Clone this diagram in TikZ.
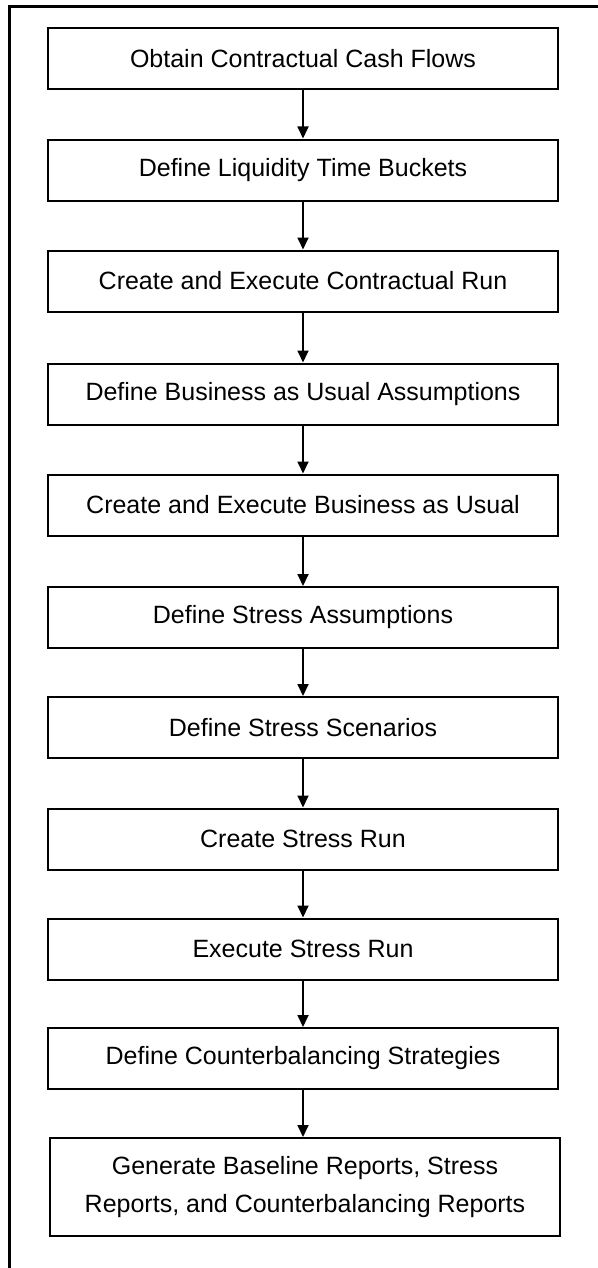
\documentclass[tikz,border=0pt]{standalone}
\usepackage{fontspec}
\setmainfont{Liberation Sans}
\usetikzlibrary{arrows.meta}

\begin{document}
\begin{tikzpicture}[x=0.5pt, y=-0.5pt,
	stepbox/.style={draw=black, line width=1pt, minimum width=255pt, minimum height=30.5pt, inner sep=0pt, align=center, font=\fontsize{12.5}{19}\selectfont},
	flow/.style={draw=black, line width=0.9pt, -{Triangle[width=5.5pt,length=6pt]}}]
	\useasboundingbox (0,0) rectangle (598,1268);
	\draw[draw=black, line width=1.5pt] (9,1268) -- (9,7) -- (598,7);
	\node[stepbox] (obtain) at (303,58.5) {Obtain Contractual Cash Flows};
	\node[stepbox] (buckets) at (303,170) {Define Liquidity Time Buckets};
	\node[stepbox] (contrun) at (303,281) {Create and Execute Contractual Run};
	\node[stepbox] (bauassum) at (303,394) {Define Business as Usual Assumptions};
	\node[stepbox] (baurun) at (303,505) {Create and Execute Business as Usual};
	\node[stepbox] (stressassum) at (303,617.5) {Define Stress Assumptions};
	\node[stepbox] (scenarios) at (303,727.5) {Define Stress Scenarios};
	\node[stepbox] (createstress) at (303,839) {Create Stress Run};
	\node[stepbox] (execstress) at (303,949) {Execute Stress Run};
	\node[stepbox] (cbstrat) at (303,1058.5) {Define Counterbalancing Strategies};
	\node[stepbox, minimum height=49pt] (reports) at (305,1187) {Generate Baseline Reports, Stress\\Reports, and Counterbalancing Reports};
	\draw[flow] (obtain) -- (buckets);
	\draw[flow] (buckets) -- (contrun);
	\draw[flow] (contrun) -- (bauassum);
	\draw[flow] (bauassum) -- (baurun);
	\draw[flow] (baurun) -- (stressassum);
	\draw[flow] (stressassum) -- (scenarios);
	\draw[flow] (scenarios) -- (createstress);
	\draw[flow] (createstress) -- (execstress);
	\draw[flow] (execstress) -- (cbstrat);
	\draw[flow] (cbstrat) -- (reports.north -| cbstrat);
\end{tikzpicture}
\end{document}
